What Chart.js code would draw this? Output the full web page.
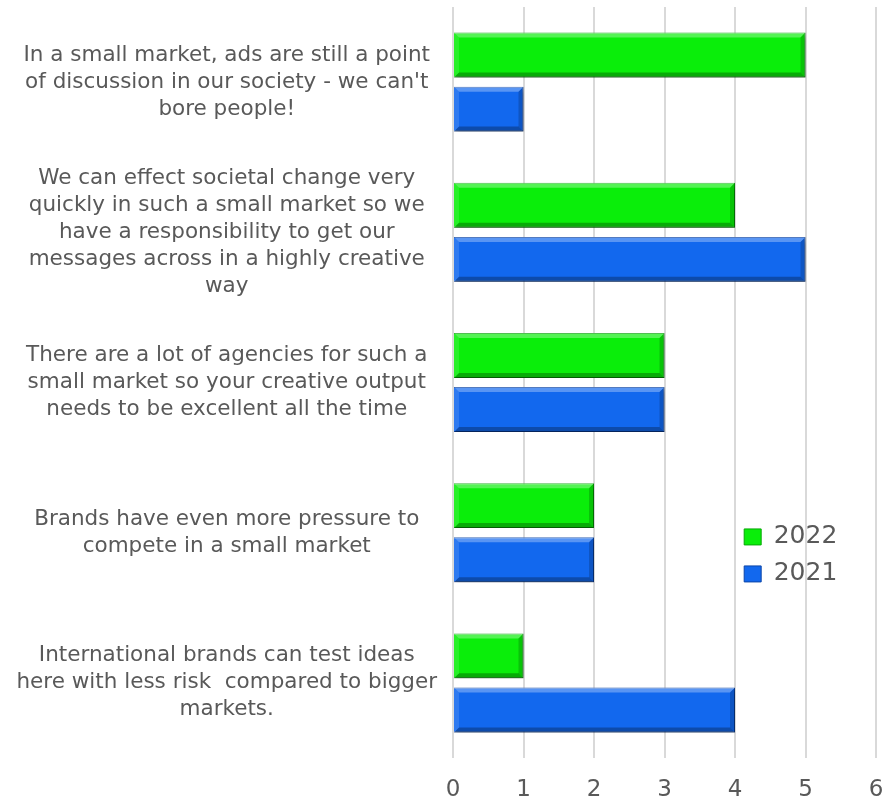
<!DOCTYPE html>
<html lang="en">
<head>
  <meta charset="UTF-8" />
  <title>Small market creativity</title>
  <script src="https://cdn.jsdelivr.net/npm/chart.js"></script>
  <style>
    html, body { margin: 0; padding: 0; background: #fff; }
    #wrap { width: 884px; height: 799px; }
  </style>
</head>
<body>
  <div id="wrap"><canvas id="chart" width="884" height="799"></canvas></div>

  <script>
    // statements (multi-line, as wrapped in the original)
    const categories = [
      ['In a small market, ads are still a point', "of discussion in our society - we can't", 'bore people!'],
      ['We can effect societal change very', 'quickly in such a small market so we', 'have a responsibility to get our', 'messages across in a highly creative', 'way'],
      ['There are a lot of agencies for such a', 'small market so your creative output', 'needs to be excellent all the time'],
      ['Brands have even more pressure to', 'compete in a small market'],
      ['International brands can test ideas', 'here with less risk  compared to bigger', 'markets.']
    ];
    const values2022 = [5, 4, 3, 2, 1];
    const values2021 = [1, 5, 3, 2, 4];
    const xTickLabels = ['0', '1', '2', '3', '4', '5', '6'];

    const FONT = "'DejaVu Sans', sans-serif";
    const GREY = '#595959';

    // soft drop shadow under the bars, then a bevel on top of each bar
    const barShadow = {
      id: 'barShadow',
      beforeDatasetsDraw(chart) {
        const c = chart.ctx;
        c.save();
        c.shadowColor = 'rgba(0,0,0,0.3)';
        c.shadowBlur = 5;
        c.shadowOffsetX = 2;
        c.shadowOffsetY = 3;
      },
      afterDatasetsDraw(chart) {
        const c = chart.ctx;
        c.restore();
        const poly = (pts, fill) => {
          c.beginPath();
          c.moveTo(pts[0][0], pts[0][1]);
          for (let i = 1; i < pts.length; i++) c.lineTo(pts[i][0], pts[i][1]);
          c.closePath();
          c.fillStyle = fill;
          c.fill();
        };
        c.save();
        chart.data.datasets.forEach((ds, di) => {
          chart.getDatasetMeta(di).data.forEach(bar => {
            const p = bar.getProps(['x', 'y', 'base', 'height'], true);
            const l = Math.min(p.x, p.base), r = Math.max(p.x, p.base);
            const t = p.y - p.height / 2, b = p.y + p.height / 2;
            const d = 5;
            poly([[l, t], [r, t], [r - d, t + d], [l + d, t + d]], 'rgba(255,255,255,0.3)');
            poly([[l, b], [r, b], [r - d, b - d], [l + d, b - d]], 'rgba(0,0,0,0.28)');
            poly([[l, t], [l + d, t + d], [l + d, b - d], [l, b]], 'rgba(255,255,255,0.12)');
            poly([[r, t], [r - d, t + d], [r - d, b - d], [r, b]], 'rgba(0,0,0,0.18)');
          });
        });
        c.restore();
      }
    };

    // put the legend inside the plot, lower right
    const legendPlace = {
      id: 'legendPlace',
      afterLayout(chart) {
        const lg = chart.legend;
        const a = chart.chartArea;
        lg.left = a.left + (a.right - a.left) * 0.66;
        lg.top = a.top + (a.bottom - a.top) * 0.673;
        lg.right = lg.left + lg.width;
        lg.bottom = lg.top + 120;
      }
    };

    const ctx = document.getElementById('chart').getContext('2d');
    new Chart(ctx, {
      type: 'bar',
      data: {
        labels: categories,
        datasets: [
          {
            label: '2022',
            data: values2022,
            backgroundColor: '#0aee0a',
            borderColor: '#06a806',
            borderWidth: 1
          },
          {
            label: '2021',
            data: values2021,
            backgroundColor: '#1268ee',
            borderColor: '#0b45a8',
            borderWidth: 1
          }
        ]
      },
      options: {
        indexAxis: 'y',
        responsive: false,
        animation: false,
        layout: { padding: { top: 7, right: 0, bottom: 0, left: 0 } },
        datasets: {
          bar: { categoryPercentage: 0.72, barPercentage: 0.83 }
        },
        scales: {
          x: {
            min: 0,
            max: 6,
            afterFit: (scale) => {
              scale.paddingRight = 8;
              scale.height = 41;
            },
            ticks: {
              stepSize: 1,
              color: GREY,
              padding: 21,
              font: { family: FONT, size: 23, lineHeight: 1 },
              callback: (v, i) => xTickLabels[i]
            },
            grid: { color: '#d9d9d9', lineWidth: 2, drawTicks: false },
            border: { display: false }
          },
          y: {
            afterFit: (scale) => {
              scale.width = 453;
              scale.paddingTop = 0;
              scale.paddingBottom = 0;
            },
            ticks: {
              autoSkip: false,
              color: GREY,
              crossAlign: 'center',
              padding: 8,
              font: { family: FONT, size: 21.5, lineHeight: 1.256 }
            },
            grid: { display: false },
            border: { display: false }
          }
        },
        plugins: {
          legend: {
            position: 'chartArea',
            align: 'start',
            labels: {
              color: GREY,
              boxWidth: 17,
              boxHeight: 16,
              padding: 12,
              font: { family: FONT, size: 25 }
            }
          },
          tooltip: { enabled: false }
        }
      },
      plugins: [barShadow, legendPlace]
    });
  </script>
</body>
</html>
